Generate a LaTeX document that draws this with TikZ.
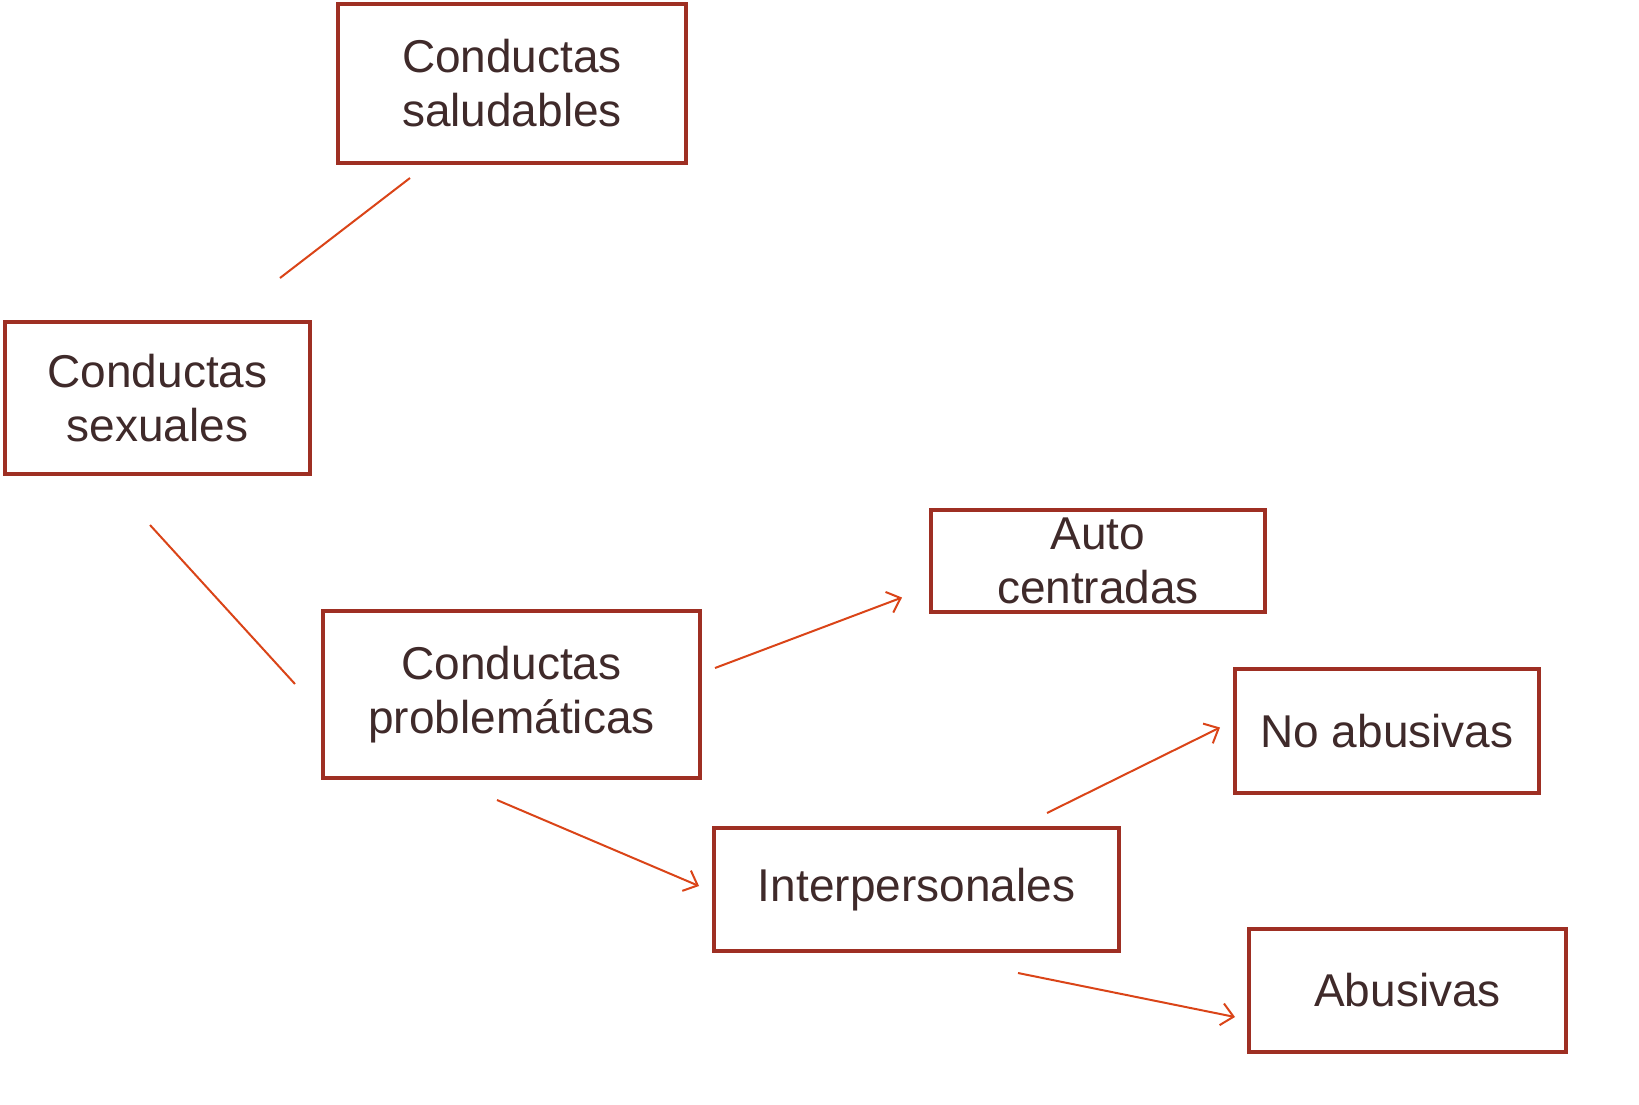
\documentclass[tikz,border=0pt]{standalone}
\usepackage{fontspec}
\setmainfont{Liberation Sans}
\usetikzlibrary{arrows.meta}
\definecolor{boxred}{HTML}{9E2F23}
\definecolor{linered}{HTML}{DA4418}
\definecolor{txt}{HTML}{3F2A2A}
\tikzset{
  box/.style={draw=boxred, line width=2pt, inner sep=0pt, align=center,
    text=txt, font=\fontsize{23}{27}\selectfont},
  conn/.style={draw=linered, line width=1pt},
  arr/.style={conn, -{Straight Barb[length=6pt,width=11pt,line width=1pt]}}
}
\begin{document}
\begin{tikzpicture}[x=0.5pt,y=-0.5pt]
\useasboundingbox (0,0) rectangle (1639,1104);
\node[box, minimum width=174pt, minimum height=79.5pt] (sal) at (512,83.5) {Conductas\\saludables};
\node[box, minimum width=152.5pt, minimum height=76pt] (sex) at (157.5,398) {Conductas\\sexuales};
\node[box, minimum width=188.5pt, minimum height=83.5pt] (prob) at (511.5,694.5) {Conductas\\problemáticas};
\node[box, minimum width=167pt, minimum height=51pt] (auto) at (1098,561) {Auto\\centradas};
\node[box, minimum width=152pt, minimum height=62pt] (noab) at (1387,731) {No abusivas};
\node[box, minimum width=202.5pt, minimum height=61.5pt] (inter) at (916.5,889.5) {Interpersonales};
\node[box, minimum width=158.5pt, minimum height=61.5pt] (abus) at (1407.5,990.5) {Abusivas};
\coordinate (a1) at (280,278); \coordinate (a2) at (410,178);
\coordinate (b1) at (150,525); \coordinate (b2) at (295,684);
\coordinate (c1) at (715,668); \coordinate (c2) at (902,597.5);
\coordinate (d1) at (497,800); \coordinate (d2) at (699,886);
\coordinate (e1) at (1047,813); \coordinate (e2) at (1220,727.5);
\coordinate (f1) at (1018,973); \coordinate (f2) at (1235,1017);
\draw[conn] (a1) -- (a2);
\draw[conn] (b1) -- (b2);
\draw[arr] (c1) -- (c2);
\draw[arr] (d1) -- (d2);
\draw[arr] (e1) -- (e2);
\draw[arr] (f1) -- (f2);
\end{tikzpicture}
\end{document}
